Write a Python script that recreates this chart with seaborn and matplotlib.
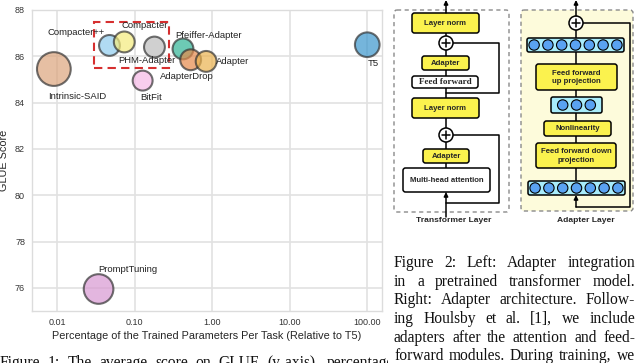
import numpy as np
import pandas as pd
import matplotlib
matplotlib.use("Agg")
import matplotlib.pyplot as plt
import seaborn as sns
from matplotlib.patches import FancyBboxPatch, Circle, Rectangle
from matplotlib.ticker import FixedLocator, FuncFormatter, NullLocator

# ---- chart data ----
methods = ["Intrinsic-SAID", "Compacter++", "Compacter", "PHM-Adapter", "BitFit",
           "Pfeiffer-Adapter", "AdapterDrop", "Adapter", "T5", "PromptTuning"]
param_pct = [0.009, 0.047, 0.073, 0.179, 0.126, 0.418, 0.525, 0.832, 100.0, 0.034]
glue_score = [85.45, 86.47, 86.62, 86.40, 84.95, 86.32, 85.85, 85.78, 86.50, 75.95]
highlight_group = ["Compacter++", "Compacter", "PHM-Adapter"]
x_ticks = [0.01, 0.1, 1, 10, 100]
y_ticks = [76, 78, 80, 82, 84, 86, 88]

caption_fig2 = [
    "Figure 2: Left: Adapter integration",
    "in a pretrained transformer model.",
    "Right: Adapter architecture. Follow-",
    "ing Houlsby et al. [1], we include",
    "adapters after the attention and feed-",
    "forward modules. During training, we",
]
caption_fig1 = "Figure 1: The average score on GLUE (y-axis), percentage"

# ---- styles ----
colors = {
    "Intrinsic-SAID": "#dca47c", "Compacter++": "#8fcdee", "Compacter": "#f4ec7c",
    "PHM-Adapter": "#bdbdbd", "BitFit": "#f6b8e6", "Pfeiffer-Adapter": "#2fb496",
    "AdapterDrop": "#e6894a", "Adapter": "#ebb24e", "T5": "#3a96cc",
    "PromptTuning": "#d898d2",
}
areas = {
    "Intrinsic-SAID": 590, "Compacter++": 225, "Compacter": 225, "PHM-Adapter": 225,
    "BitFit": 205, "Pfeiffer-Adapter": 225, "AdapterDrop": 225, "Adapter": 225,
    "T5": 315, "PromptTuning": 455,
}
label_offsets = {
    "Intrinsic-SAID": (17, -20), "Compacter++": (-24, 9.4), "Compacter": (14.4, 12.2),
    "PHM-Adapter": (-5.4, -9.4), "BitFit": (6.1, -12.2), "Pfeiffer-Adapter": (18.4, 10),
    "AdapterDrop": (-2.5, -12.2), "Adapter": (18.7, 0), "T5": (4.3, -13.7),
    "PromptTuning": (21.2, 13.7),
}

df = pd.DataFrame({"method": methods, "params": param_pct, "glue": glue_score})

sns.set_theme(style="whitegrid")
plt.rcParams["font.family"] = ["Liberation Sans", "DejaVu Sans"]

fig = plt.figure(figsize=(6.4, 3.63), dpi=100)
fig.patch.set_facecolor("white")

# Scatter chart
ax = fig.add_axes([32 / 640, 1 - 311 / 363, 350 / 640, 301 / 363])
sns.scatterplot(data=df, x="params", y="glue", hue="method", palette=colors,
                size="method", sizes=areas, alpha=0.7, edgecolor="#333333",
                linewidth=1.5, legend=False, ax=ax, zorder=3)
ax.set_xscale("log")
ax.set_xlim(0.0047, 155)
ax.set_ylim(75, 88)
ax.xaxis.set_major_locator(FixedLocator(x_ticks))
ax.xaxis.set_minor_locator(NullLocator())
ax.xaxis.set_major_formatter(FuncFormatter(lambda v, p: f"{v:.2f}"))
ax.set_yticks(y_ticks)
ax.tick_params(labelsize=6.5, pad=5, length=0, labelcolor="#333333")
ax.grid(color="#e2e2e2", linewidth=1.2)
for s in ax.spines.values():
    s.set_color("#dcdcdc")
    s.set_linewidth(1.0)
ax.set_xlabel("Percentage of the Trained Parameters Per Task (Relative to T5)",
              fontsize=7.8, labelpad=3)
ax.set_ylabel("GLUE Score", fontsize=7.8, labelpad=4)

for m, xv, yv in zip(methods, param_pct, glue_score):
    ax.annotate(m, (xv, yv), xytext=label_offsets[m], textcoords="offset points",
                ha="center", va="center", fontsize=6.8, color="#222222", zorder=5)

# dashed box round the Compacter family
grp = df[df["method"].isin(highlight_group)]
lx0 = 10 ** (np.log10(grp["params"].min()) - 0.2)
lx1 = 10 ** (np.log10(grp["params"].max()) + 0.19)
ly0 = grp["glue"].min() - 0.9
ly1 = grp["glue"].max() + 0.88
ax.add_patch(Rectangle((lx0, ly0), lx1 - lx0, ly1 - ly0, fill=False,
                       edgecolor="#d62f2f", linestyle=(0, (4, 2.5)), linewidth=1.5,
                       zorder=4))

# ---- diagram and captions (pixel space overlay) ----
dg = fig.add_axes([0, 0, 1, 1])
dg.set_xlim(0, 640)
dg.set_ylim(363, 0)
dg.axis("off")

yellow = "#fbf24e"
bar_fc = "#a8ecfb"
node_fc = "#5aa2f2"


def box(x0, y0, x1, y1, fc, text, fs=5.6, family="Liberation Sans", ls=1.35):
    dg.add_patch(FancyBboxPatch((x0, y0), x1 - x0, y1 - y0,
                                boxstyle="round,pad=0,rounding_size=2.5",
                                fc=fc, ec="black", lw=1.1, zorder=3))
    if text:
        dg.text((x0 + x1) / 2, (y0 + y1) / 2 + 0.5, text, ha="center", va="center",
                fontsize=fs, fontweight="bold", family=family, linespacing=ls,
                zorder=4)


def plus(cx, cy, r=7):
    dg.add_patch(Circle((cx, cy), r, fc="white", ec="black", lw=1.1, zorder=3))
    dg.plot([cx - 4.2, cx + 4.2], [cy, cy], color="black", lw=1.1, zorder=4)
    dg.plot([cx, cx], [cy - 4.2, cy + 4.2], color="black", lw=1.1, zorder=4)


def node_bar(x0, y0, x1, y1, n):
    dg.add_patch(FancyBboxPatch((x0, y0), x1 - x0, y1 - y0,
                                boxstyle="round,pad=0,rounding_size=2",
                                fc=bar_fc, ec="black", lw=1.1, zorder=3))
    step = 13.8
    start = (x0 + x1) / 2 - step * (n - 1) / 2
    for i in range(n):
        dg.add_patch(Circle((start + i * step, (y0 + y1) / 2), 5.2, fc=node_fc,
                            ec="black", lw=0.8, zorder=4))


def arrow(x, y_from, y_to):
    dg.annotate("", xy=(x, y_to), xytext=(x, y_from),
                arrowprops=dict(arrowstyle="-|>", color="black", lw=1.1,
                                mutation_scale=6, shrinkA=0, shrinkB=0), zorder=5)


# left panel: transformer layer
dg.add_patch(FancyBboxPatch((394, 10), 115, 202, boxstyle="round,pad=0,rounding_size=3",
                            fc="white", ec="#8a8a8a", lw=1.0, ls=(0, (3, 2.5)), zorder=1))
cx = 446
dg.plot([cx, cx], [13, 192], color="black", lw=1.1, zorder=2)
dg.plot([cx + 7, 499, 499, cx], [43, 43, 93, 93], color="black", lw=1.1, zorder=2)
dg.plot([cx + 7, 499, 499, cx], [135, 135, 203, 203], color="black", lw=1.1, zorder=2)
arrow(cx, 13, 0)
arrow(cx, 217, 192)
box(412, 13, 479, 33, yellow, "Layer norm")
plus(cx, 43)
box(422, 56, 469, 70, yellow, "Adapter")
box(412, 76, 478, 88, "white", "Feed forward", fs=6.6, family="Liberation Serif")
box(412, 98, 479, 118, yellow, "Layer norm")
plus(cx, 135)
box(423, 149, 469, 163, yellow, "Adapter")
box(403, 168, 490, 192, "white", "Multi-head attention")
dg.text(454, 221, "Transformer Layer", ha="center", va="center", fontsize=6.1,
        fontweight="bold")

# right panel: adapter layer
dg.add_patch(FancyBboxPatch((521, 10), 112, 201, boxstyle="round,pad=0,rounding_size=3",
                            fc="#fdfbdb", ec="#8a8a8a", lw=1.0, ls=(0, (3, 2.5)), zorder=1))
ax2 = 576
dg.plot([ax2, ax2], [23, 181], color="black", lw=1.1, zorder=2)
dg.plot([ax2 + 7, 630, 630, ax2], [23, 23, 207, 207], color="black", lw=1.1, zorder=2)
arrow(ax2, 16, 0)
arrow(ax2, 207, 195)
plus(ax2, 23)
node_bar(527, 38, 624, 52, 7)
box(536, 64, 617, 90, yellow, "Feed forward\nup projection")
node_bar(551, 97, 602, 113, 3)
box(544, 121, 611, 136, yellow, "Nonlinearity")
box(536, 143, 616, 168, yellow, "Feed forward down\nprojection")
node_bar(528, 181, 625, 195, 7)
dg.text(586, 221, "Adapter Layer", ha="center", va="center", fontsize=6.1,
        fontweight="bold")

# captions in serif, justified word by word
renderer = fig.canvas.get_renderer()
cap_kw = dict(fontsize=11.2, family="Liberation Serif", ha="left", va="baseline",
              color="#111111")


def justify(line, x0, x1, y, clip=None):
    words = line.split()
    texts = [dg.text(0, y, w, **cap_kw) for w in words]
    widths = [t.get_window_extent(renderer).width for t in texts]
    gap = (x1 - x0 - sum(widths)) / (len(words) - 1)
    xpos = x0
    for t, w in zip(texts, widths):
        t.set_x(xpos)
        xpos += w + gap
        if clip is not None:
            t.set_clip_on(True)
            t.set_clip_path(clip)


for i, line in enumerate(caption_fig2):
    justify(line, 394, 635, 267 + 18.7 * i)

clip1 = Rectangle((0, 0), 388, 363, transform=dg.transData)
justify(caption_fig1, 0, 394, 367, clip=clip1)

fig.savefig("out.png", dpi=100, facecolor="white")
